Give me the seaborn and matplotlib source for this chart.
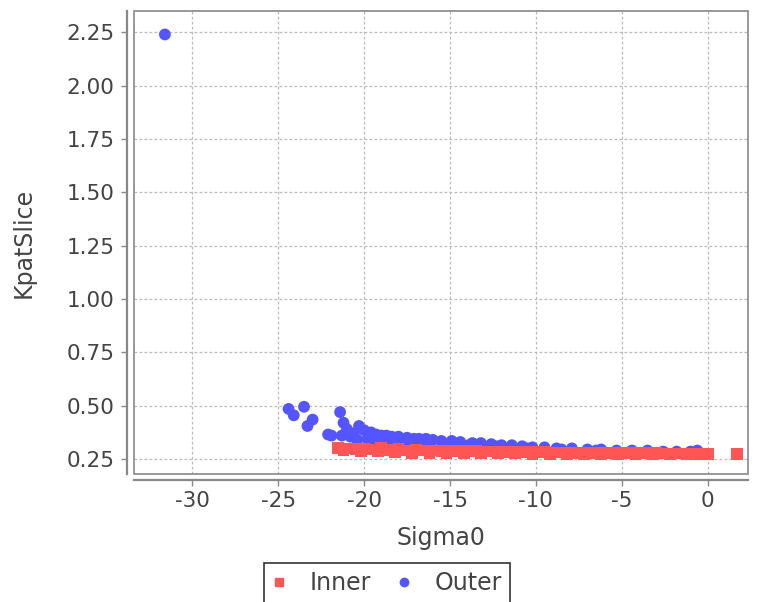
import pandas as pd
import matplotlib.pyplot as plt
import seaborn as sns
from matplotlib.patches import Rectangle

# values
outer_x = [-31.6, -24.4, -24.1, -23.5, -23.3, -23.0, -22.1, -21.9, -21.4, -21.2,
           -21.0, -20.6, -20.3, -20.0, -19.6, -19.3, -19.0, -18.7, -18.4, -18.0,
           -17.5, -17.1, -16.8, -16.4, -16.0, -15.5, -14.9, -14.4, -13.7, -13.2,
           -12.6, -12.0, -11.4, -10.8, -10.2, -9.5, -8.8, -7.9, -7.0, -6.2,
           -5.3, -4.4, -3.5, -2.6, -1.8, -1.0, -0.6,
           -20.8, -19.8, -18.8, -17.8, -16.6, -15.2, -13.9, -12.3, -10.5, -8.5,
           -6.5, -4.5, -2.5,
           -21.3, -20.4, -19.4, -18.3, -17.3, -16.2, -15.0, -13.5, -12.0]
outer_y = [2.24, 0.485, 0.455, 0.495, 0.405, 0.435, 0.365, 0.36, 0.47, 0.42,
           0.39, 0.37, 0.405, 0.385, 0.375, 0.365, 0.36, 0.36, 0.355, 0.355,
           0.35, 0.345, 0.345, 0.345, 0.34, 0.335, 0.335, 0.33, 0.325, 0.325,
           0.32, 0.315, 0.315, 0.31, 0.305, 0.305, 0.30, 0.30, 0.295, 0.295,
           0.29, 0.29, 0.29, 0.285, 0.285, 0.285, 0.29,
           0.355, 0.345, 0.34, 0.335, 0.33, 0.32, 0.315, 0.31, 0.30, 0.295,
           0.29, 0.285, 0.28,
           0.36, 0.34, 0.33, 0.325, 0.32, 0.315, 0.31, 0.305, 0.30]

inner_x = [-21.5, -21.0, -20.5, -20.0, -19.5, -19.0, -18.5, -18.0, -17.5, -17.0,
           -16.5, -16.0, -15.5, -15.0, -14.5, -14.0, -13.5, -13.0, -12.5, -12.0,
           -11.5, -11.0, -10.5, -10.0, -9.5, -9.0, -8.5, -8.0, -7.5, -7.0,
           -6.5, -6.0, -5.5, -5.0, -4.5, -4.0, -3.5, -3.0, -2.5, -2.0,
           -1.5, -1.0, -0.5, 0.0,
           -21.2, -20.2, -19.2, -18.2, -17.2, -16.2, -15.2, -14.2, -13.2, -12.2,
           -11.2, -10.2, -9.2, -8.2, -7.2, -6.2, -5.2, -4.2, -3.2, -2.2,
           -1.2, -0.2, 1.7]
inner_y = [0.303, 0.30, 0.298, 0.30, 0.295, 0.302, 0.292, 0.298, 0.29, 0.292,
           0.29, 0.29, 0.288, 0.288, 0.287, 0.286, 0.286, 0.285, 0.285, 0.284,
           0.284, 0.283, 0.283, 0.282, 0.282, 0.281, 0.281, 0.28, 0.28, 0.28,
           0.279, 0.279, 0.278, 0.278, 0.278, 0.277, 0.277, 0.277, 0.276, 0.276,
           0.276, 0.275, 0.275, 0.275,
           0.29, 0.285, 0.285, 0.282, 0.28, 0.28, 0.278, 0.277, 0.277, 0.276,
           0.276, 0.275, 0.275, 0.274, 0.274, 0.273, 0.273, 0.273, 0.272, 0.272,
           0.272, 0.272, 0.272]

series = ['Inner', 'Outer']
colors = {'Inner': '#ff5555', 'Outer': '#5555ff'}
markers = {'Inner': 's', 'Outer': 'o'}

df = pd.concat([
    pd.DataFrame({'Sigma0': outer_x, 'KpatSlice': outer_y, 'series': 'Outer'}),
    pd.DataFrame({'Sigma0': inner_x, 'KpatSlice': inner_y, 'series': 'Inner'}),
], ignore_index=True)

sns.set_style('white')
plt.rcParams['font.family'] = ['DejaVu Sans']
plt.rcParams['axes.unicode_minus'] = False

fig = plt.figure(figsize=(7.63, 6.02), dpi=100)
ax = fig.add_axes([134 / 763, 1 - 474 / 602, (748 - 134) / 763, (474 - 11) / 602])

sns.scatterplot(data=df, x='Sigma0', y='KpatSlice', hue='series', style='series',
                hue_order=['Outer', 'Inner'], style_order=['Outer', 'Inner'],
                palette=colors, markers=markers, s=72, linewidth=0, alpha=1,
                legend=False, ax=ax)

ax.set_xlim(-33.4, 2.35)
ax.set_ylim(0.18, 2.35)
ax.set_xticks([-30, -25, -20, -15, -10, -5, 0])
ax.set_yticks([0.25, 0.5, 0.75, 1.0, 1.25, 1.5, 1.75, 2.0, 2.25])
ax.set_yticklabels(['0.25', '0.50', '0.75', '1.00', '1.25', '1.50', '1.75', '2.00', '2.25'])
ax.grid(True, color='#bbbbbb', linestyle=(0, (2.2, 1.8)), linewidth=0.9)
ax.set_axisbelow(True)

# plot frame plus offset axis lines
for side in ['top', 'right']:
    ax.spines[side].set_visible(False)
ax.spines['left'].set_position(('outward', 5))
ax.spines['bottom'].set_position(('outward', 4.5))
for side in ['left', 'bottom']:
    ax.spines[side].set_color('#888888')
    ax.spines[side].set_linewidth(1.6)
ax.add_patch(Rectangle((0, 0), 1, 1, transform=ax.transAxes, fill=False,
                       edgecolor='#888888', linewidth=1.2, clip_on=False, zorder=5))

ax.tick_params(axis='both', which='major', direction='out', length=4, width=1,
               color='#888888', labelsize=15.5, labelcolor='#444444', left=True, bottom=True)
ax.tick_params(axis='y', pad=5)
ax.set_xlabel('Sigma0', fontsize=17, color='#444444', labelpad=11)
ax.set_ylabel('KpatSlice', fontsize=17, color='#444444', labelpad=22)

handles = [plt.Line2D([], [], marker='s', color=colors['Inner'], linestyle='', markersize=6),
           plt.Line2D([], [], marker='o', color=colors['Outer'], linestyle='', markersize=6)]
leg = fig.legend(handles, series, loc='upper center', bbox_to_anchor=(387 / 763, 1 - 563 / 602),
                 ncol=2, frameon=True, fancybox=False, fontsize=17, handlelength=0.6,
                 handletextpad=1.0, columnspacing=1.1, borderpad=0.35, borderaxespad=0)
leg.get_frame().set_edgecolor('black')
leg.get_frame().set_linewidth(1.2)
for t in leg.get_texts():
    t.set_color('#444444')

fig.savefig('out.png', dpi=100)
